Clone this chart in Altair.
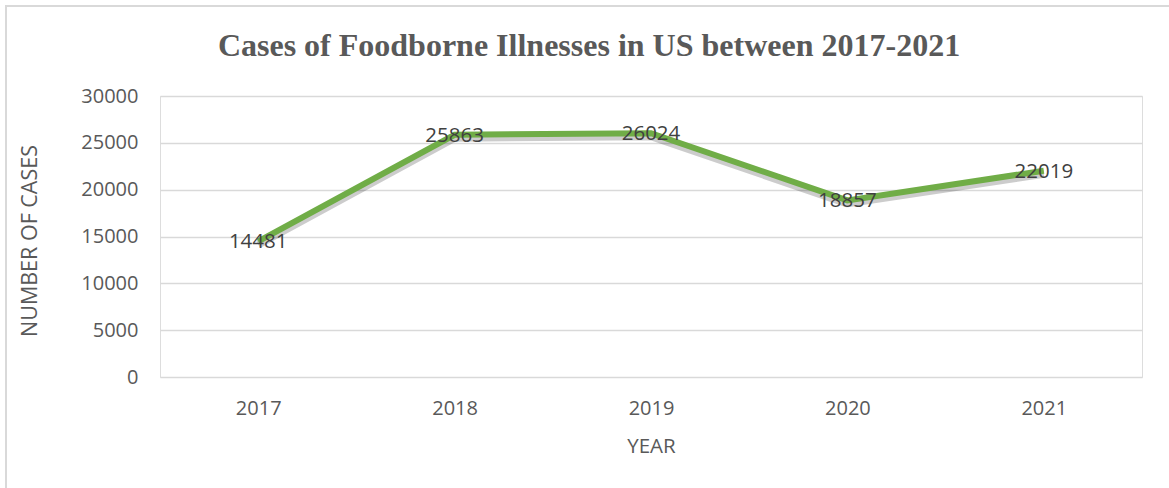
import altair as alt
import pandas as pd

years = ["2017", "2018", "2019", "2020", "2021"]
cases = [14481, 25863, 26024, 18857, 22019]
title_text = "Cases of Foodborne Illnesses in US between 2017-2021"

df = pd.DataFrame({"Year": years, "Cases": cases})

W, H = 982, 281
FONT = "Open Sans"
GRAY = "#595959"

x_enc = alt.X("Year:N", sort=years,
              scale=alt.Scale(type="point", padding=0.5),
              axis=alt.Axis(title="YEAR", labelAngle=0, domain=False, ticks=False,
                            labelPadding=21, titlePadding=18, labelFontSize=20,
                            titleFontSize=20.5, labelColor=GRAY, titleColor=GRAY,
                            labelFont=FONT, titleFont=FONT, titleFontWeight="normal",
                            grid=False))
y_enc = alt.Y("Cases:Q",
              scale=alt.Scale(domain=[0, 30000], nice=False),
              axis=alt.Axis(title="NUMBER OF CASES", values=[0, 5000, 10000, 15000, 20000, 25000, 30000],
                            format="d",
                            domain=False, ticks=False, labelPadding=22, labelFontSize=20,
                            titleFontSize=21.5, labelColor=GRAY, titleColor=GRAY,
                            labelFont=FONT, titleFont=FONT, titleFontWeight="normal",
                            gridColor="#D9D9D9", gridWidth=1.5, titleX=-130, titleY=H / 2 + 4,
                            titleAlign="center", titleBaseline="middle", titleAngle=-90))

base = alt.Chart(df)

border = base.mark_rect(fill=None, stroke="#D9D9D9", strokeWidth=1.5).encode(
    x=alt.value(-154), x2=alt.value(W + 40), y=alt.value(-90), y2=alt.value(H + 140)
)

title = alt.Chart(pd.DataFrame({"t": [title_text]})).mark_text(
    font="Liberation Serif", fontSize=32, fontWeight="bold", color=GRAY,
    align="center", baseline="alphabetic"
).encode(x=alt.value(429), y=alt.value(-40), text="t:N")

shadow = base.mark_line(color="#000000", opacity=0.2, strokeWidth=8, yOffset=3,
                        strokeJoin="round").encode(x=x_enc, y=y_enc)
line = base.mark_line(color="#70AD47", strokeWidth=6, strokeJoin="miter").encode(x=x_enc, y=y_enc)
labels = base.mark_text(fontSize=20.5, color="#404040", font=FONT, baseline="middle", dy=1).encode(
    x=alt.X("Year:N", sort=years), y="Cases:Q", text="Cases:Q"
)

chart = alt.layer(border, title, shadow, line, labels).properties(
    width=W, height=H,
    autosize=alt.AutoSizeParams(type="none"),
    padding={"left": 160, "top": 96, "right": 27, "bottom": 111},
).configure_view(stroke=None).configure(background="white")

chart.save("out.html", embed_options={"renderer": "svg", "actions": False})
